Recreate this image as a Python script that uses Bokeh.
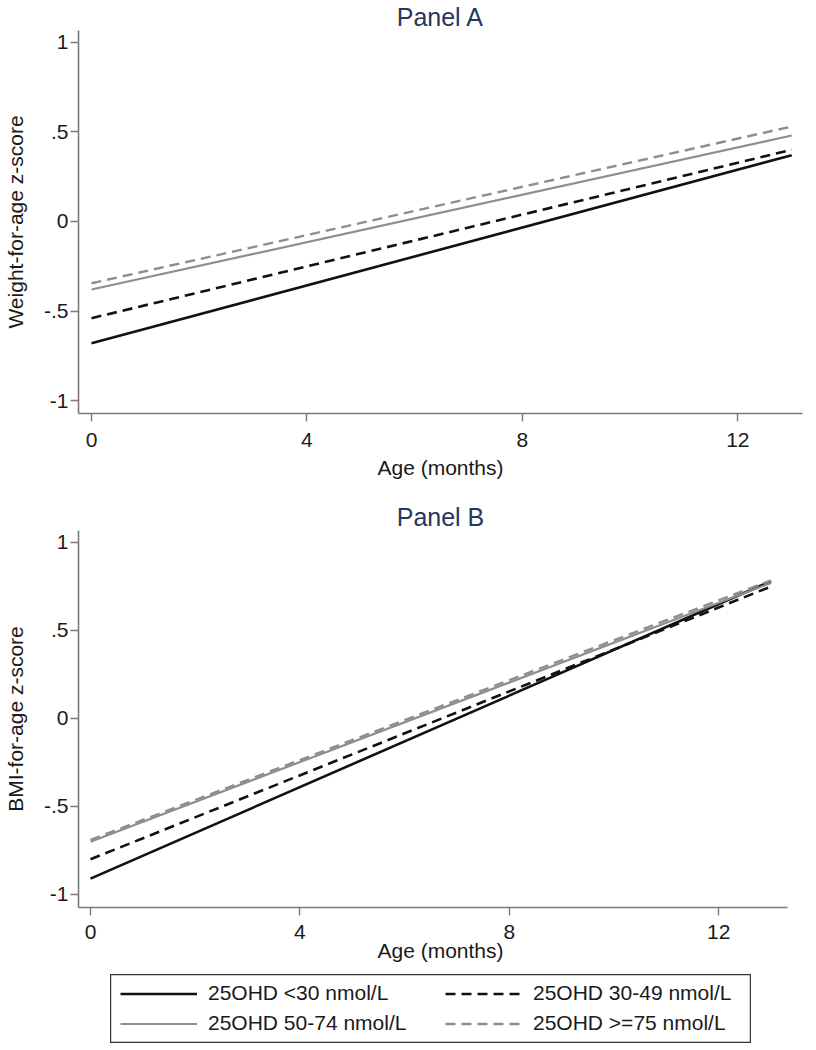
from bokeh.plotting import figure
from bokeh.layouts import column, row, Spacer
from bokeh.models import Range1d, FixedTicker, Legend, LegendItem
from bokeh.embed import file_html
from bokeh.resources import INLINE

# ---- data ----
months = [0, 13]
groups = ["25OHD <30 nmol/L", "25OHD 30-49 nmol/L",
          "25OHD 50-74 nmol/L", "25OHD >=75 nmol/L"]

waz_lt30 = [-0.68, 0.37]
waz_30_49 = [-0.54, 0.40]
waz_50_74 = [-0.38, 0.48]
waz_ge75 = [-0.345, 0.53]

baz_lt30 = [-0.91, 0.78]
baz_30_49 = [-0.80, 0.75]
baz_50_74 = [-0.70, 0.77]
baz_ge75 = [-0.69, 0.785]

x_ticks = [0, 4, 8, 12]
y_ticks = [-1, -0.5, 0, 0.5, 1]
y_tick_labels = ["-1", "-.5", "0", ".5", "1"]

# ---- styles ----
colors = ["#111111", "#111111", "#8e8e8e", "#8e8e8e"]
dashes = ["solid", "10 6", "solid", "10 6"]
widths = [2.6, 2.6, 2.2, 2.4]

FONT = "Liberation Sans"
AXIS_COLOR = "#7a7a7a"
TITLE_COLOR = "#26375f"
TEXT_COLOR = "#1a1a1a"


def make_panel(title, ylabel, series, xr, yr, xbounds, height,
               bt, bb, title_offset, xlab_standoff, xtick_standoff):
    p = figure(width=816, height=height, x_range=Range1d(*xr),
               y_range=Range1d(*yr), output_backend="svg",
               toolbar_location=None, min_border_left=76,
               min_border_right=14, min_border_top=bt,
               min_border_bottom=bb)
    p.title.text = title
    p.title.align = "center"
    p.title.offset = title_offset
    p.title.text_font = FONT
    p.title.text_font_size = "25px"
    p.title.text_font_style = "normal"
    p.title.text_color = TITLE_COLOR
    p.title.standoff = 0
    p.outline_line_color = None
    p.grid.visible = False

    for ax in (p.xaxis[0], p.yaxis[0]):
        ax.axis_line_color = AXIS_COLOR
        ax.axis_line_width = 1.6
        ax.major_tick_line_color = AXIS_COLOR
        ax.major_tick_line_width = 1.4
        ax.major_tick_out = 8
        ax.major_tick_in = 0
        ax.minor_tick_line_color = None
        ax.major_label_text_font = FONT
        ax.major_label_text_font_size = "21px"
        ax.major_label_text_color = TEXT_COLOR
        ax.axis_label_text_font = FONT
        ax.axis_label_text_font_size = "21px"
        ax.axis_label_text_font_style = "normal"
        ax.axis_label_text_color = TEXT_COLOR

    p.xaxis.ticker = FixedTicker(ticks=x_ticks)
    p.xaxis.bounds = xbounds
    p.xaxis.axis_label = "Age (months)"
    p.xaxis.major_label_standoff = xtick_standoff
    p.xaxis.axis_label_standoff = xlab_standoff

    p.yaxis.ticker = FixedTicker(ticks=y_ticks)
    p.yaxis.major_label_overrides = dict(zip(y_ticks, y_tick_labels))
    p.yaxis.major_label_orientation = "horizontal"
    p.yaxis.major_label_standoff = 2
    p.yaxis.axis_label = ylabel
    p.yaxis.axis_label_standoff = 14

    for ys, c, d, w in zip(series, colors, dashes, widths):
        p.line(months, ys, line_color=c, line_dash=d, line_width=w)
    return p


pA = make_panel("Panel A", "Weight-for-age z-score",
                [waz_lt30, waz_30_49, waz_50_74, waz_ge75],
                (-0.241, 13.2), (-1.072, 1.066), (-0.241, 13.2),
                495, 27, 82, -4, 6, 11)

pB = make_panel("Panel B", "BMI-for-age z-score",
                [baz_lt30, baz_30_49, baz_50_74, baz_ge75],
                (-0.229, 13.6), (-1.074, 1.068), (-0.229, 13.31),
                479, 35, 67, -28, -3, 9)

# ---- legend: a boxed strip holding two legend columns ----
pL = figure(width=641, height=69, x_range=Range1d(0, 1), y_range=Range1d(0, 1),
            output_backend="svg", toolbar_location=None,
            x_axis_type=None, y_axis_type=None,
            min_border_left=0, min_border_right=0,
            min_border_top=0, min_border_bottom=0)
pL.grid.visible = False
pL.outline_line_color = "#333333"
pL.outline_line_width = 1.4

# key renderers sit outside the visible range; only their legend glyphs show
keys = []
for c, d, w in zip(colors, dashes, widths):
    keys.append(pL.line([0, 1], [-5, -5], line_color=c, line_dash=d, line_width=w))


def make_legend(idx, x):
    lg = Legend(items=[LegendItem(label=groups[i], renderers=[keys[i]]) for i in idx],
                location=(x, 8), orientation="vertical")
    lg.label_text_font = FONT
    lg.label_text_font_size = "21px"
    lg.label_text_color = TEXT_COLOR
    lg.glyph_width = 77
    lg.glyph_height = 23
    lg.label_height = 23
    lg.label_standoff = 11
    lg.spacing = 6
    lg.padding = 0
    lg.margin = 0
    lg.border_line_color = None
    lg.background_fill_alpha = 0
    return lg


pL.add_layout(make_legend([0, 2], 10))
pL.add_layout(make_legend([1, 3], 335))

layout = column(pA, pB, row(Spacer(width=110, height=69), pL), spacing=0)

open("out.html", "w").write(file_html(layout, INLINE))
